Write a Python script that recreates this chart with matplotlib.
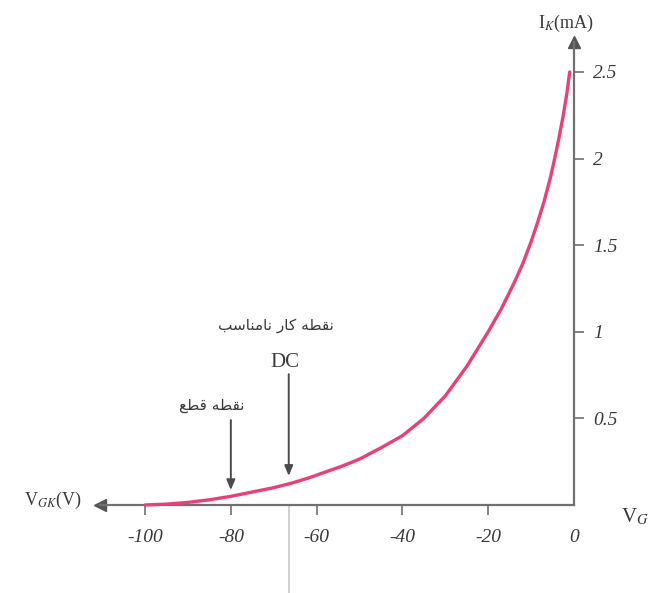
import numpy as np
import matplotlib
matplotlib.use("Agg")
import matplotlib.pyplot as plt

plt.rcParams["mathtext.fontset"] = "stix"

# Cathode current vs grid-cathode voltage (triode transfer curve)
vgk = [-100, -95, -90, -85, -80, -75, -70, -66, -62, -58, -54, -50, -45,
       -40, -35, -30, -25, -20, -17, -14, -12, -10, -8.5, -7, -5.5, -4.5,
       -3.5, -2.5, -1.7, -1]
ik = [0.0, 0.005, 0.015, 0.03, 0.05, 0.075, 0.10, 0.125, 0.155, 0.19,
      0.225, 0.265, 0.33, 0.40, 0.50, 0.63, 0.80, 1.0, 1.13, 1.28, 1.39,
      1.52, 1.63, 1.75, 1.89, 2.0, 2.12, 2.25, 2.37, 2.5]

x_ticks = [-100, -80, -60, -40, -20, 0]
x_tick_labels = ["-100", "-80", "-60", "-40", "-20", "0"]
y_ticks = [0.5, 1, 1.5, 2, 2.5]
y_tick_labels = ["0.5", "1", "1.5", "2", "2.5"]

cutoff_v = -80
dc_v = -66.5

# Persian labels in visual (shaped, left-to-right) order
cutoff_label = "\uFECA\uFEC4\uFED7 \uFEEA\uFEC4\uFED8\uFEE7"            # نقطه قطع
dc_label = ("\uFE90\uFEB3\uFE8E\uFEE8\uFEE3\uFE8E\uFEE7 "
            "\uFEAD\uFE8E\uFB90 \uFEEA\uFEC4\uFED8\uFEE7")                 # نقطه کار نامناسب

axis_col = "#707070"
text_col = "#3a3a3a"
curve_col = "#ea3f78"

fig = plt.figure(figsize=(6.49, 5.93), dpi=100)
ax = fig.add_axes([100 / 649, 88 / 593, 474 / 649, 463 / 593])
ax.set_xlim(-110.5, 0)
ax.set_ylim(0, 2.673)

for s in ["left", "top"]:
    ax.spines[s].set_visible(False)
ax.spines["right"].set_position(("data", 0))
ax.spines["bottom"].set_position(("data", 0))
for s in ["right", "bottom"]:
    ax.spines[s].set_color(axis_col)
    ax.spines[s].set_linewidth(1.6)

ax.yaxis.tick_right()
ax.set_xticks(x_ticks)
ax.set_xticklabels(x_tick_labels)
ax.set_yticks(y_ticks)
ax.set_yticklabels(y_tick_labels)
ax.tick_params(axis="both", direction="out", length=7, width=1.2,
               color=axis_col, labelcolor=text_col, labelsize=14)
ax.tick_params(axis="x", pad=10)
ax.tick_params(axis="y", pad=7)
for lab in ax.get_xticklabels() + ax.get_yticklabels():
    lab.set_family("Liberation Serif")
    lab.set_style("italic")
ax.get_xticklines()[-2].set_visible(False)

# axis arrowheads
ax.plot(0, 1.0, marker="^", markersize=8, color="#555555",
        transform=ax.get_xaxis_transform(), clip_on=False)
ax.plot(0.0, 0, marker="<", markersize=8, color="#555555",
        transform=ax.get_yaxis_transform(), clip_on=False)

ax.plot(vgk, ik, color=curve_col, linewidth=2.4, solid_capstyle="round",
        solid_joinstyle="round", clip_on=False, zorder=3)

# axis titles
fig.text(566 / 649, 1 - 23 / 593, r"I$_K$(mA)", ha="center", va="center",
         fontsize=13, color=text_col, family="Liberation Serif")
fig.text(53 / 649, 1 - 500 / 593, r"V$_{GK}$(V)", ha="center", va="center",
         fontsize=13, color=text_col, family="Liberation Serif")
fig.text(621 / 649, 1 - 517 / 593, r"V$_{G}$", ha="left", va="center",
         fontsize=15, color=text_col, family="Liberation Serif")

# faint extension line below the DC operating point
ax.plot([dc_v, dc_v], [0, -0.52], color="#c8c8c8", linewidth=1.2,
        clip_on=False, zorder=1)

# annotations
i_cut = np.interp(cutoff_v, vgk, ik)
i_dc = np.interp(dc_v, vgk, ik)
arrow = dict(arrowstyle="-|>,head_length=0.6,head_width=0.25",
             color="#4a4a4a", lw=1.4, shrinkA=0, shrinkB=2)
ax.annotate("", xy=(cutoff_v, i_cut + 0.02), xytext=(cutoff_v, 0.49),
            arrowprops=arrow)
ax.annotate("", xy=(dc_v, i_dc + 0.03), xytext=(dc_v, 0.755),
            arrowprops=arrow)

ax.text(-84.5, 0.575, cutoff_label, ha="center", va="center", fontsize=11,
        color=text_col, family="DejaVu Sans")
ax.text(-69.5, 1.035, dc_label, ha="center", va="center", fontsize=11,
        color=text_col, family="DejaVu Sans")
ax.text(-67.5, 0.825, "DC", ha="center", va="center", fontsize=15,
        color=text_col, family="Liberation Serif")

fig.savefig("out.png", dpi=100, facecolor="white")
